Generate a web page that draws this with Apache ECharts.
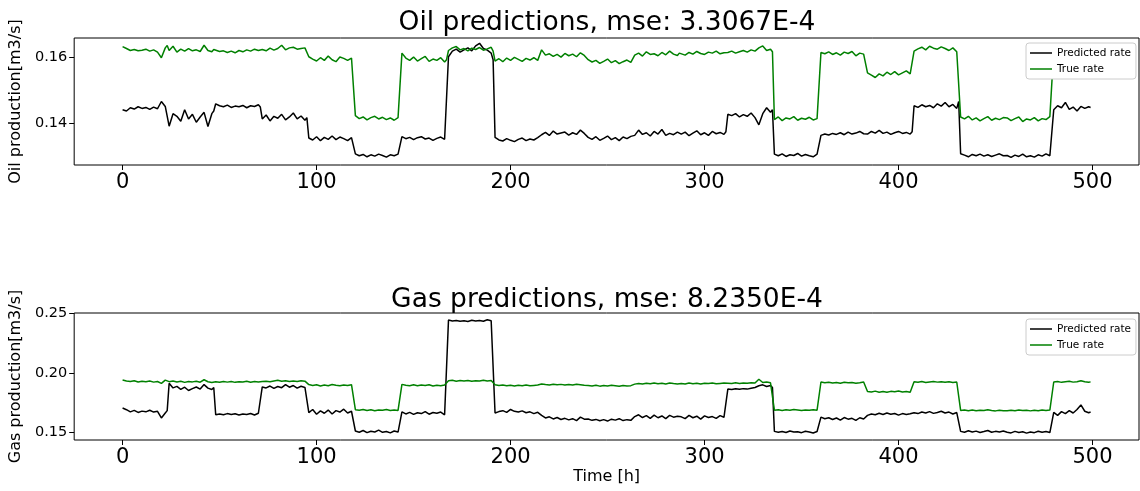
<!DOCTYPE html>
<html>
<head>
<meta charset="utf-8">
<script src="https://cdn.jsdelivr.net/npm/echarts@6/dist/echarts.min.js"></script>
<style>
  html, body { margin: 0; padding: 0; background: #fff; }
  #chart { width: 1140px; height: 491px; }
</style>
</head>
<body>
<div id="chart"></div>
<script>
// Sampling hours (two-hourly, plus the last hour of every 24 h block)
const hours = [
  0,2,4,6,8,10,12,14,16,18,20,22,23,
  24,26,28,30,32,34,36,38,40,42,44,46,47,
  48,50,52,54,56,58,60,62,64,66,68,70,71,
  72,74,76,78,80,82,84,86,88,90,92,94,95,
  96,98,100,102,104,106,108,110,112,114,116,118,119,
  120,122,124,126,128,130,132,134,136,138,140,142,143,
  144,146,148,150,152,154,156,158,160,162,164,166,167,
  168,170,172,174,176,178,180,182,184,186,188,190,191,
  192,194,196,198,200,202,204,206,208,210,212,214,215,
  216,218,220,222,224,226,228,230,232,234,236,238,239,
  240,242,244,246,248,250,252,254,256,258,260,262,263,
  264,266,268,270,272,274,276,278,280,282,284,286,287,
  288,290,292,294,296,298,300,302,304,306,308,310,311,
  312,314,316,318,320,322,324,326,328,330,332,334,335,
  336,338,340,342,344,346,348,350,352,354,356,358,359,
  360,362,364,366,368,370,372,374,376,378,380,382,383,
  384,386,388,390,392,394,396,398,400,402,404,406,407,
  408,410,412,414,416,418,420,422,424,426,428,430,431,
  432,434,436,438,440,442,444,446,448,450,452,454,455,
  456,458,460,462,464,466,468,470,472,474,476,478,479,
  480,482,484,486,488,490,492,494,496,498,499
];

// Oil rate [m3/s]
const oilPredicted = [
  0.1440,0.1436,0.1446,0.1442,0.1449,0.1444,0.1447,0.1441,0.1448,0.1443,0.1465,0.1450,0.1446,
  0.1390,0.1428,0.1420,0.1405,0.1440,0.1412,0.1426,0.1402,0.1418,0.1432,0.1389,0.1428,0.1436,
  0.1458,0.1452,0.1449,0.1454,0.1447,0.1451,0.1449,0.1453,0.1446,0.1452,0.1450,0.1455,0.1448,
  0.1412,0.1424,0.1406,0.1420,0.1414,0.1426,0.1409,0.1418,0.1430,0.1412,0.1421,0.1408,0.1416,
  0.1354,0.1348,0.1358,0.1346,0.1356,0.1350,0.1360,0.1349,0.1357,0.1352,0.1346,0.1355,0.1351,
  0.1306,0.1300,0.1304,0.1297,0.1303,0.1299,0.1305,0.1301,0.1296,0.1303,0.1300,0.1305,0.1302,
  0.1358,0.1352,0.1356,0.1349,0.1355,0.1358,0.1351,0.1354,0.1347,0.1353,0.1357,0.1350,0.1348,
  0.1601,0.1618,0.1624,0.1615,0.1622,0.1628,0.1619,0.1634,0.1642,0.1626,0.1621,0.1612,0.1592,
  0.1356,0.1348,0.1345,0.1352,0.1347,0.1343,0.1350,0.1354,0.1346,0.1351,0.1348,0.1355,0.1352,
  0.1364,0.1371,0.1362,0.1375,0.1366,0.1369,0.1372,0.1363,0.1370,0.1365,0.1378,0.1368,0.1362,
  0.1356,0.1350,0.1358,0.1347,0.1353,0.1360,0.1349,0.1355,0.1346,0.1357,0.1352,0.1359,0.1354,
  0.1362,0.1378,0.1365,0.1370,0.1360,0.1374,0.1366,0.1380,0.1362,0.1368,0.1364,0.1372,0.1367,
  0.1366,0.1372,0.1361,0.1369,0.1376,0.1364,0.1370,0.1362,0.1374,0.1367,0.1371,0.1365,0.1373,
  0.1426,0.1422,0.1428,0.1418,0.1425,0.1420,0.1430,0.1416,0.1394,0.1428,0.1446,0.1432,0.1440,
  0.1305,0.1300,0.1306,0.1298,0.1303,0.1301,0.1307,0.1299,0.1304,0.1300,0.1297,0.1305,0.1302,
  0.1362,0.1366,0.1363,0.1368,0.1365,0.1370,0.1364,0.1372,0.1366,0.1369,0.1374,0.1367,0.1371,
  0.1366,0.1374,0.1369,0.1377,0.1368,0.1372,0.1365,0.1370,0.1374,0.1368,0.1371,0.1366,0.1373,
  0.1452,0.1447,0.1455,0.1449,0.1453,0.1446,0.1458,0.1451,0.1462,0.1449,0.1456,0.1444,0.1465,
  0.1306,0.1302,0.1297,0.1304,0.1300,0.1305,0.1299,0.1303,0.1298,0.1302,0.1306,0.1300,0.1303,
  0.1301,0.1295,0.1302,0.1298,0.1305,0.1297,0.1300,0.1296,0.1303,0.1299,0.1306,0.1300,0.1304,
  0.1440,0.1452,0.1446,0.1462,0.1441,0.1448,0.1436,0.1450,0.1444,0.1449,0.1447
];

const oilTrue = [
  0.1632,0.1626,0.1620,0.1623,0.1619,0.1621,0.1624,0.1618,0.1622,0.1615,0.1598,0.1628,0.1635,
  0.1620,0.1633,0.1615,0.1624,0.1618,0.1626,0.1619,0.1622,0.1617,0.1636,0.1620,0.1616,0.1623,
  0.1621,0.1617,0.1619,0.1614,0.1618,0.1613,0.1620,0.1616,0.1622,0.1618,0.1624,0.1620,0.1626,
  0.1623,0.1619,0.1627,0.1621,0.1626,0.1636,0.1622,0.1628,0.1630,0.1624,0.1626,0.1628,0.1624,
  0.1601,0.1594,0.1588,0.1598,0.1590,0.1603,0.1592,0.1586,0.1600,0.1596,0.1590,0.1597,0.1594,
  0.1422,0.1413,0.1418,0.1409,0.1416,0.1420,0.1412,0.1417,0.1410,0.1415,0.1408,0.1416,0.1421,
  0.1612,0.1597,0.1590,0.1600,0.1588,0.1595,0.1602,0.1587,0.1594,0.1590,0.1598,0.1585,0.1592,
  0.1620,0.1628,0.1632,0.1622,0.1626,0.1619,0.1627,0.1623,0.1629,0.1621,0.1625,0.1630,0.1618,
  0.1588,0.1595,0.1586,0.1597,0.1590,0.1599,0.1593,0.1587,0.1596,0.1591,0.1598,0.1590,0.1594,
  0.1622,0.1606,0.1610,0.1602,0.1608,0.1600,0.1611,0.1604,0.1609,0.1601,0.1613,0.1605,0.1599,
  0.1592,0.1585,0.1590,0.1581,0.1587,0.1594,0.1583,0.1589,0.1580,0.1586,0.1591,0.1584,0.1588,
  0.1606,0.1612,0.1603,0.1616,0.1608,0.1610,0.1604,0.1614,0.1607,0.1618,0.1609,0.1605,0.1612,
  0.1610,0.1606,0.1614,0.1609,0.1617,0.1611,0.1608,0.1615,0.1612,0.1618,0.1610,0.1613,0.1616,
  0.1614,0.1618,0.1612,0.1616,0.1620,0.1615,0.1622,0.1618,0.1628,0.1634,0.1620,0.1624,0.1616,
  0.1410,0.1418,0.1407,0.1415,0.1412,0.1419,0.1408,0.1414,0.1411,0.1417,0.1409,0.1413,0.1410,
  0.1614,0.1610,0.1616,0.1608,0.1613,0.1606,0.1615,0.1611,0.1617,0.1604,0.1612,0.1609,0.1607,
  0.1552,0.1545,0.1538,0.1549,0.1543,0.1554,0.1547,0.1556,0.1546,0.1552,0.1558,0.1549,0.1544,
  0.1618,0.1625,0.1630,0.1622,0.1633,0.1627,0.1624,0.1631,0.1626,0.1620,0.1628,0.1616,0.1610,
  0.1418,0.1412,0.1420,0.1409,0.1415,0.1406,0.1413,0.1419,0.1408,0.1414,0.1410,0.1416,0.1411,
  0.1415,0.1407,0.1413,0.1418,0.1404,0.1412,0.1409,0.1416,0.1406,0.1413,0.1410,0.1419,0.1415,
  0.1620,0.1624,0.1618,0.1626,0.1621,0.1623,0.1619,0.1625,0.1620,0.1622,0.1621
];

// Gas rate [m3/s]
const gasPredicted = [
  0.1702,0.1688,0.1670,0.1682,0.1665,0.1676,0.1670,0.1683,0.1668,0.1674,0.1618,0.1660,0.1680,
  0.1911,0.1872,0.1885,0.1860,0.1878,0.1850,0.1866,0.1880,0.1862,0.1900,0.1870,0.1858,0.1875,
  0.1645,0.1652,0.1646,0.1655,0.1648,0.1653,0.1644,0.1651,0.1647,0.1656,0.1643,0.1658,0.1664,
  0.1880,0.1872,0.1888,0.1868,0.1884,0.1874,0.1900,0.1878,0.1892,0.1870,0.1886,0.1876,0.1882,
  0.1664,0.1690,0.1650,0.1678,0.1658,0.1685,0.1652,0.1680,0.1668,0.1692,0.1660,0.1675,0.1662,
  0.1508,0.1498,0.1512,0.1494,0.1506,0.1500,0.1515,0.1497,0.1504,0.1492,0.1508,0.1499,0.1503,
  0.1670,0.1652,0.1665,0.1648,0.1662,0.1655,0.1672,0.1650,0.1664,0.1658,0.1668,0.1645,0.1660,
  0.2445,0.2438,0.2442,0.2436,0.2440,0.2434,0.2443,0.2437,0.2441,0.2435,0.2448,0.2439,0.2446,
  0.1660,0.1672,0.1680,0.1665,0.1690,0.1674,0.1668,0.1678,0.1662,0.1670,0.1655,0.1666,0.1650,
  0.1640,0.1618,0.1628,0.1610,0.1622,0.1605,0.1615,0.1602,0.1612,0.1596,0.1625,0.1608,0.1615,
  0.1610,0.1598,0.1606,0.1594,0.1604,0.1592,0.1608,0.1600,0.1612,0.1596,0.1604,0.1598,0.1602,
  0.1630,0.1645,0.1622,0.1638,0.1615,0.1642,0.1620,0.1635,0.1612,0.1640,0.1625,0.1632,0.1618,
  0.1628,0.1612,0.1640,0.1620,0.1633,0.1608,0.1636,0.1622,0.1630,0.1615,0.1638,0.1624,0.1620,
  0.1862,0.1858,0.1865,0.1860,0.1866,0.1862,0.1870,0.1876,0.1890,0.1898,0.1884,0.1892,0.1875,
  0.1505,0.1497,0.1503,0.1495,0.1508,0.1499,0.1502,0.1494,0.1506,0.1500,0.1491,0.1504,0.1498,
  0.1625,0.1612,0.1620,0.1605,0.1618,0.1600,0.1622,0.1608,0.1615,0.1598,0.1620,0.1610,0.1604,
  0.1640,0.1652,0.1645,0.1658,0.1648,0.1660,0.1650,0.1656,0.1642,0.1655,0.1648,0.1653,0.1646,
  0.1662,0.1655,0.1668,0.1660,0.1672,0.1657,0.1665,0.1675,0.1660,0.1668,0.1652,0.1664,0.1658,
  0.1505,0.1498,0.1510,0.1500,0.1507,0.1495,0.1503,0.1512,0.1497,0.1505,0.1499,0.1508,0.1502,
  0.1498,0.1492,0.1505,0.1496,0.1502,0.1490,0.1500,0.1494,0.1506,0.1497,0.1503,0.1495,0.1510,
  0.1665,0.1640,0.1672,0.1655,0.1680,0.1660,0.1690,0.1728,0.1675,0.1662,0.1668
];

const gasTrue = [
  0.1939,0.1930,0.1926,0.1933,0.1922,0.1928,0.1924,0.1930,0.1921,0.1926,0.1910,0.1938,0.1932,
  0.1925,0.1930,0.1922,0.1928,0.1919,0.1926,0.1923,0.1929,0.1920,0.1941,0.1924,0.1918,0.1922,
  0.1924,0.1920,0.1926,0.1921,0.1927,0.1919,0.1925,0.1922,0.1928,0.1920,0.1926,0.1923,0.1927,
  0.1926,0.1929,0.1924,0.1931,0.1936,0.1928,0.1932,0.1926,0.1930,0.1927,0.1933,0.1929,0.1931,
  0.1900,0.1893,0.1898,0.1889,0.1896,0.1891,0.1901,0.1894,0.1890,0.1897,0.1892,0.1899,0.1895,
  0.1688,0.1684,0.1690,0.1682,0.1687,0.1680,0.1686,0.1683,0.1689,0.1681,0.1685,0.1682,0.1688,
  0.1902,0.1895,0.1891,0.1898,0.1890,0.1896,0.1892,0.1899,0.1889,0.1895,0.1890,0.1897,0.1893,
  0.1932,0.1936,0.1929,0.1934,0.1930,0.1935,0.1928,0.1933,0.1930,0.1937,0.1931,0.1934,0.1939,
  0.1898,0.1892,0.1896,0.1890,0.1895,0.1889,0.1894,0.1891,0.1897,0.1890,0.1893,0.1896,0.1892,
  0.1905,0.1900,0.1897,0.1903,0.1898,0.1902,0.1896,0.1901,0.1897,0.1903,0.1899,0.1894,0.1898,
  0.1893,0.1889,0.1895,0.1887,0.1892,0.1888,0.1894,0.1890,0.1886,0.1893,0.1889,0.1891,0.1888,
  0.1904,0.1910,0.1906,0.1912,0.1907,0.1914,0.1908,0.1911,0.1905,0.1913,0.1909,0.1906,0.1911,
  0.1910,0.1906,0.1913,0.1908,0.1911,0.1905,0.1912,0.1909,0.1914,0.1907,0.1910,0.1913,0.1908,
  0.1912,0.1909,0.1915,0.1910,0.1914,0.1911,0.1916,0.1913,0.1945,0.1918,0.1922,0.1915,0.1912,
  0.1684,0.1688,0.1682,0.1687,0.1683,0.1689,0.1685,0.1681,0.1686,0.1683,0.1688,0.1684,0.1686,
  0.1922,0.1916,0.1919,0.1913,0.1918,0.1912,0.1920,0.1915,0.1917,0.1911,0.1916,0.1922,0.1914,
  0.1842,0.1838,0.1845,0.1836,0.1841,0.1835,0.1843,0.1839,0.1846,0.1837,0.1842,0.1835,0.1840,
  0.1924,0.1920,0.1926,0.1918,0.1923,0.1927,0.1921,0.1925,0.1919,0.1924,0.1917,0.1922,0.1920,
  0.1682,0.1686,0.1680,0.1685,0.1679,0.1684,0.1681,0.1687,0.1682,0.1678,0.1684,0.1680,0.1683,
  0.1680,0.1684,0.1679,0.1685,0.1681,0.1683,0.1678,0.1684,0.1680,0.1686,0.1682,0.1685,0.1683,
  0.1922,0.1926,0.1919,0.1924,0.1928,0.1921,0.1925,0.1932,0.1924,0.1920,0.1923
];

const xTicks = [0, 100, 200, 300, 400, 500];
const oilTicks = [0.14, 0.16];
const gasTicks = [0.15, 0.20, 0.25];

const FONT = 'DejaVu Sans';
const pairs = vals => hours.map((h, i) => [h, vals[i]]);

function xAxisFor(gridIndex, withName) {
  return {
    type: 'value', gridIndex,
    min: -24.95, max: 523.95,
    axisLine: { show: false, onZero: false },
    splitLine: { show: false },
    axisTick: { show: true, customValues: xTicks, length: 5, lineStyle: { color: '#000', width: 1 } },
    axisLabel: { customValues: xTicks, fontSize: 21, color: '#000', fontFamily: FONT, margin: 7 },
    name: withName ? 'Time [h]' : '',
    nameLocation: 'middle', nameGap: 29,
    nameTextStyle: { fontSize: 16, color: '#000', fontFamily: FONT }
  };
}

function yAxisFor(gridIndex, min, max, ticks, name) {
  return {
    type: 'value', gridIndex, min, max,
    axisLine: { show: false, onZero: false },
    splitLine: { show: false },
    axisTick: { show: true, customValues: ticks, length: 5, lineStyle: { color: '#000', width: 1 } },
    axisLabel: { customValues: ticks, fontSize: 14.5, color: '#000', fontFamily: FONT, margin: 7,
                 formatter: v => v.toFixed(2) },
    name, nameLocation: 'middle', nameGap: 44,
    nameTextStyle: { fontSize: 16, color: '#000', fontFamily: FONT }
  };
}

function legendFor(top) {
  return {
    orient: 'vertical', left: 1026, top,
    backgroundColor: '#fff', borderColor: '#cccccc', borderWidth: 1, borderRadius: 3,
    padding: [4, 5, 4, 4], itemGap: 4, itemWidth: 22, itemHeight: 1.5,
    icon: 'rect',
    textStyle: { fontSize: 10.5, color: '#000', fontFamily: FONT, lineHeight: 12 },
    data: ['Predicted rate', 'True rate']
  };
}

function lineSeries(name, color, axisIndex, vals) {
  return {
    type: 'line', name, xAxisIndex: axisIndex, yAxisIndex: axisIndex,
    data: pairs(vals), showSymbol: false, symbol: 'none',
    lineStyle: { color, width: 1.5 }, itemStyle: { color },
    emphasis: { disabled: true }, z: 2
  };
}

const chart = echarts.init(document.getElementById('chart'), null, { renderer: 'canvas' });
chart.setOption({
  animation: false,
  backgroundColor: '#fff',
  title: [
    { text: 'Oil predictions, mse: 3.3067E-4', left: 607, top: 10, textAlign: 'center', padding: 0,
      textStyle: { fontSize: 26.5, fontWeight: 'normal', color: '#000', fontFamily: FONT } },
    { text: 'Gas predictions, mse: 8.2350E-4', left: 607, top: 287, textAlign: 'center', padding: 0,
      textStyle: { fontSize: 26.5, fontWeight: 'normal', color: '#000', fontFamily: FONT } }
  ],
  grid: [
    { left: 73, top: 38, width: 1066, height: 127, show: true, borderColor: '#000', borderWidth: 1, backgroundColor: 'transparent' },
    { left: 73, top: 313, width: 1066, height: 127, show: true, borderColor: '#000', borderWidth: 1, backgroundColor: 'transparent' }
  ],
  xAxis: [xAxisFor(0, false), xAxisFor(1, true)],
  yAxis: [
    yAxisFor(0, 0.1272, 0.1658, oilTicks, 'Oil production[m3/s]'),
    yAxisFor(1, 0.1432, 0.2505, gasTicks, 'Gas production[m3/s]')
  ],
  legend: [legendFor(43), legendFor(319)],
  series: [
    lineSeries('Predicted rate', '#000000', 0, oilPredicted),
    lineSeries('True rate', '#008000', 0, oilTrue),
    lineSeries('Predicted rate', '#000000', 1, gasPredicted),
    lineSeries('True rate', '#008000', 1, gasTrue)
  ]
});
</script>
</body>
</html>
